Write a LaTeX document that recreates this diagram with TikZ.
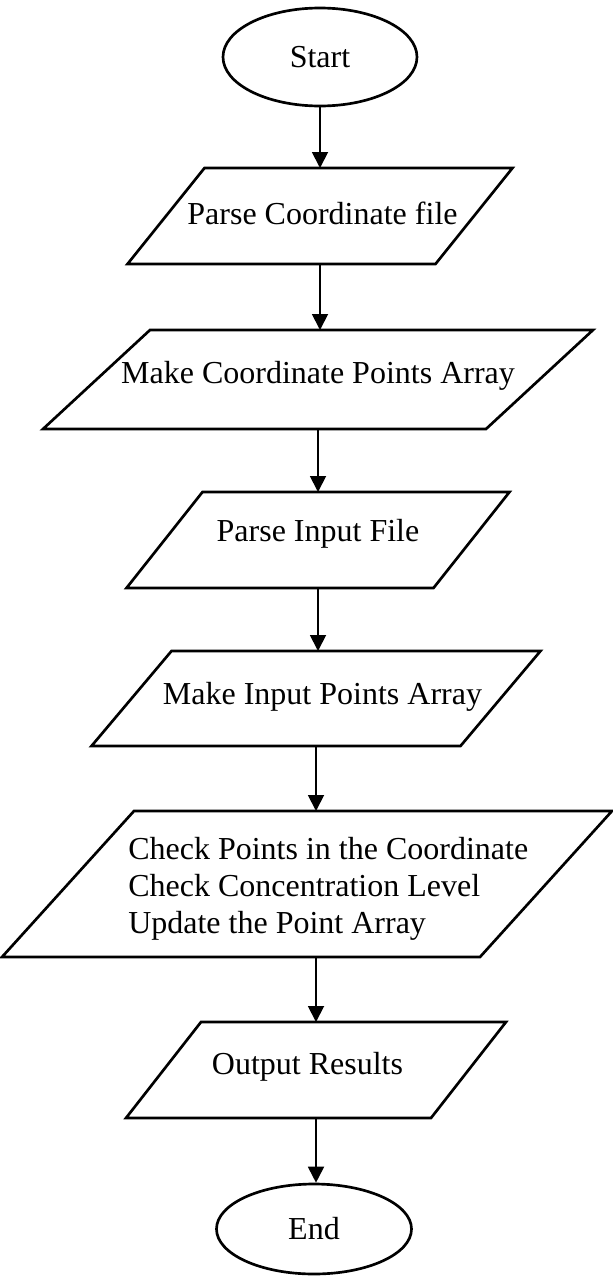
\documentclass[tikz,border=0pt]{standalone}
\usepackage{fontspec}
\setmainfont{Liberation Serif}
\usetikzlibrary{shapes.geometric,arrows.meta}

\tikzset{
  term/.style={draw, ellipse, line width=2pt, inner sep=0.75pt, font=\fontsize{24}{28}\selectfont},
  iobox/.style={rectangle, inner sep=0pt, outer sep=0pt},
  frame/.style={line width=2pt, line join=miter},
  txt/.style={inner sep=0.75pt, font=\fontsize{24}{28}\selectfont},
  flow/.style={line width=1.4pt, -{Triangle[length=12pt,width=12pt]}}
}
% outline of an input/output box: node name, slant
\newcommand{\ioframe}[2]{\draw [frame] ([xshift=#2]#1.north west) -- (#1.north east) -- ([xshift=-#2]#1.south east) -- (#1.south west) -- cycle;}

\begin{document}
\begin{tikzpicture}[x=0.75pt,y=0.75pt,yscale=-1,xscale=1]
\useasboundingbox (0,0) rectangle (612,1278);

%Shape: Ellipse
\node [term, minimum width=145.5pt, minimum height=73.5pt] (start) at (320,57) {Start};

%Shape: Parallelogram
\node [iobox, minimum width=288.75pt, minimum height=72pt] (p1) at (320,216) {};
\ioframe{p1}{57.75pt}
%Shape: Parallelogram
\node [iobox, minimum width=412.5pt, minimum height=74.25pt] (p2) at (318,379.5) {};
\ioframe{p2}{80.25pt}
%Shape: Parallelogram
\node [iobox, minimum width=287.25pt, minimum height=72pt] (p3) at (318,540) {};
\ioframe{p3}{57pt}
%Shape: Parallelogram
\node [iobox, minimum width=336.75pt, minimum height=71.25pt] (p4) at (316,698.5) {};
\ioframe{p4}{60pt}
%Shape: Parallelogram
\node [iobox, minimum width=457.5pt, minimum height=109.5pt] (p5) at (307,884) {};
\ioframe{p5}{99pt}
%Shape: Parallelogram
\node [iobox, minimum width=285pt, minimum height=72pt] (p6) at (316,1070) {};
\ioframe{p6}{56.25pt}

%Shape: Ellipse
\node [term, minimum width=146.25pt, minimum height=67.5pt] (end) at (314,1229) {End};

% Text Node
\node [txt] (t1) at (322.5,213) {Parse Coordinate file};
% Text Node
\node [txt] (t2) at (318,376) {Make Coordinate Points Array};
% Text Node
\node [txt] (t3) at (318,534) {Parse Input File};
% Text Node
\node [txt] (t4) at (322.5,697) {Make Input Points Array};
% Text Node
\node [txt, anchor=west, align=left] (t5) at (127,889) {Check Points in the Coordinate\\Check Concentration Level\\Update the Point Array};
% Text Node
\node [txt] (t6) at (307.5,1067) {Output Results};

%Straight Lines
\draw [flow] (start) -- (p1);
\draw [flow] (p1) -- (p1 |- p2.north);
\draw [flow] (p2) -- (p3);
\draw [flow] (p3) -- (p3 |- p4.north);
\draw [flow] (p4) -- (p4 |- p5.north);
\draw [flow] (p6 |- p5.south) -- (p6);
\draw [flow] (p6) -- (p6 |- end.north);

\end{tikzpicture}
\end{document}
